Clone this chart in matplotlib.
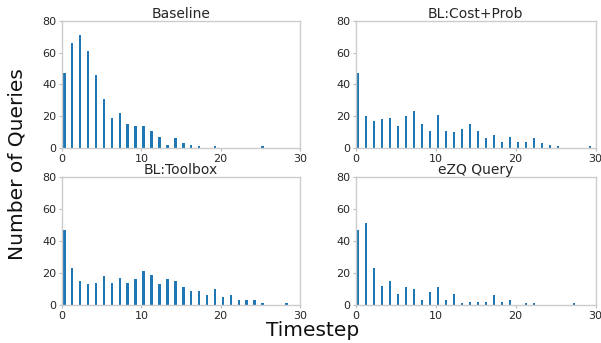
import matplotlib
matplotlib.use("Agg")
import matplotlib.pyplot as plt
import numpy as np

titles = ["Baseline", "BL:Cost+Prob", "BL:Toolbox", "eZQ Query"]

baseline_x = list(range(0, 18)) + [19, 25]
baseline_y = [47, 66, 71, 61, 46, 31, 19, 22, 15, 14, 14, 11, 7, 2, 6, 3, 2, 1, 1, 1]

costprob_x = list(range(0, 26)) + [29]
costprob_y = [47, 20, 17, 18, 19, 14, 20, 23, 15, 11, 21, 11, 10, 12, 15, 11,
              6, 8, 4, 7, 4, 4, 6, 3, 2, 1, 1]

toolbox_x = list(range(0, 26)) + [28]
toolbox_y = [47, 23, 15, 13, 14, 18, 14, 17, 14, 16, 21, 19, 13, 16, 15, 11,
             9, 9, 6, 10, 5, 6, 3, 3, 3, 1, 1]

ezq_x = list(range(0, 20)) + [21, 22, 27]
ezq_y = [47, 51, 23, 12, 15, 7, 11, 10, 3, 8, 11, 3, 7, 1, 2, 2, 2, 6, 2, 3,
         1, 1, 1]

series = [(baseline_x, baseline_y), (costprob_x, costprob_y),
          (toolbox_x, toolbox_y), (ezq_x, ezq_y)]

xticks = [0, 10, 20, 30]
yticks = [0, 20, 40, 60, 80]

fig = plt.figure(figsize=(6.01, 3.43), dpi=100)
positions = [
    [0.1032, 0.5685, 0.396, 0.371],
    [0.592, 0.5685, 0.399, 0.371],
    [0.1032, 0.1108, 0.396, 0.374],
    [0.592, 0.1108, 0.399, 0.374],
]
text_color = "#262626"
for pos, title, (xs, ys) in zip(positions, titles, series):
    ax = fig.add_axes(pos)
    ax.bar(np.asarray(xs) + 0.12, ys, width=0.32, align="edge", color="#1f77b4")
    ax.set_xlim(0, 30)
    ax.set_ylim(0, 80)
    ax.set_xticks(xticks)
    ax.set_yticks(yticks)
    ax.set_title(title, fontsize=10, color=text_color, pad=2)
    for s in ax.spines.values():
        s.set_color("#cccccc")
        s.set_linewidth(1.0)
    ax.tick_params(labelsize=8, colors=text_color, length=2.5, width=0.8,
                   color="#bbbbbb", pad=1.5)

fig.text(0.52, 0.035, "Timestep", ha="center", va="center", fontsize=14.5,
         color="#111111")
fig.text(0.028, 0.522, "Number of Queries", ha="center", va="center",
         rotation=90, fontsize=14.5, color="#111111")

fig.savefig("out.png", dpi=100)
